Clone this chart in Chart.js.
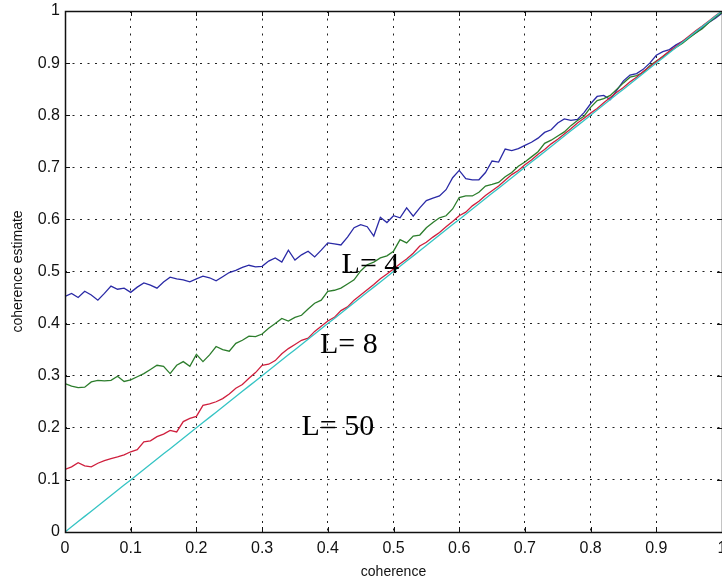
<!DOCTYPE html>
<html>
<head>
<meta charset="utf-8">
<script src="https://cdn.jsdelivr.net/npm/chart.js@4.4.0/dist/chart.umd.min.js"></script>
<style>
  body { margin: 0; background: #fff; }
</style>
</head>
<body>
<canvas id="myChart" width="722" height="582"></canvas>
<script>
// x values (true coherence)
const coherence = [
  0.00, 0.01, 0.02, 0.03, 0.04, 0.05, 0.06, 0.07, 0.08, 0.09,
  0.10, 0.11, 0.12, 0.13, 0.14, 0.15, 0.16, 0.17, 0.18, 0.19,
  0.20, 0.21, 0.22, 0.23, 0.24, 0.25, 0.26, 0.27, 0.28, 0.29,
  0.30, 0.31, 0.32, 0.33, 0.34, 0.35, 0.36, 0.37, 0.38, 0.39,
  0.40, 0.41, 0.42, 0.43, 0.44, 0.45, 0.46, 0.47, 0.48, 0.49,
  0.50, 0.51, 0.52, 0.53, 0.54, 0.55, 0.56, 0.57, 0.58, 0.59,
  0.60, 0.61, 0.62, 0.63, 0.64, 0.65, 0.66, 0.67, 0.68, 0.69,
  0.70, 0.71, 0.72, 0.73, 0.74, 0.75, 0.76, 0.77, 0.78, 0.79,
  0.80, 0.81, 0.82, 0.83, 0.84, 0.85, 0.86, 0.87, 0.88, 0.89,
  0.90, 0.91, 0.92, 0.93, 0.94, 0.95, 0.96, 0.97, 0.98, 0.99,
  1.00
];

// estimate, L = 4 (blue)
const estL4 = [
  0.452, 0.458, 0.450, 0.462, 0.455, 0.445, 0.458, 0.472, 0.466, 0.468,
  0.460, 0.470, 0.478, 0.474, 0.468, 0.480, 0.489, 0.486, 0.484, 0.480,
  0.486, 0.491, 0.488, 0.482, 0.490, 0.498, 0.502, 0.508, 0.512, 0.509,
  0.510, 0.520, 0.526, 0.518, 0.541, 0.522, 0.532, 0.539, 0.528, 0.541,
  0.555, 0.553, 0.551, 0.566, 0.584, 0.590, 0.586, 0.568, 0.604, 0.594,
  0.607, 0.603, 0.622, 0.606, 0.622, 0.636, 0.641, 0.645, 0.657, 0.680,
  0.694, 0.678, 0.676, 0.676, 0.690, 0.712, 0.710, 0.735, 0.732, 0.736,
  0.742, 0.748, 0.756, 0.767, 0.772, 0.785, 0.793, 0.790, 0.792, 0.805,
  0.822, 0.836, 0.838, 0.830, 0.848, 0.866, 0.877, 0.880, 0.888, 0.900,
  0.915, 0.922, 0.926, 0.935, 0.942, 0.950, 0.958, 0.968, 0.978, 0.986,
  0.996
];

// estimate, L = 8 (green)
const estL8 = [
  0.285, 0.280, 0.277, 0.278, 0.288, 0.291, 0.290, 0.291, 0.299, 0.289,
  0.292, 0.298, 0.304, 0.312, 0.320, 0.318, 0.304, 0.320, 0.327, 0.318,
  0.341, 0.327, 0.340, 0.356, 0.350, 0.347, 0.362, 0.368, 0.376, 0.375,
  0.380, 0.391, 0.400, 0.410, 0.405, 0.412, 0.416, 0.428, 0.439, 0.445,
  0.462, 0.464, 0.468, 0.476, 0.484, 0.501, 0.513, 0.518, 0.526, 0.530,
  0.539, 0.561, 0.555, 0.568, 0.570, 0.584, 0.594, 0.603, 0.607, 0.620,
  0.642, 0.645, 0.645, 0.652, 0.664, 0.667, 0.671, 0.682, 0.690, 0.702,
  0.710, 0.720, 0.730, 0.746, 0.752, 0.760, 0.768, 0.780, 0.790, 0.798,
  0.815, 0.828, 0.832, 0.838, 0.850, 0.862, 0.873, 0.876, 0.882, 0.895,
  0.904, 0.912, 0.922, 0.930, 0.938, 0.948, 0.958, 0.966, 0.978, 0.988,
  0.997
];

// estimate, L = 50 (red)
const estL50 = [
  0.120, 0.125, 0.133, 0.127, 0.125, 0.132, 0.137, 0.141, 0.144, 0.148,
  0.154, 0.158, 0.173, 0.175, 0.183, 0.188, 0.195, 0.192, 0.212, 0.218,
  0.222, 0.243, 0.246, 0.250, 0.256, 0.265, 0.276, 0.283, 0.295, 0.306,
  0.320, 0.322, 0.329, 0.342, 0.352, 0.360, 0.368, 0.372, 0.385, 0.395,
  0.405, 0.412, 0.425, 0.432, 0.445, 0.455, 0.465, 0.475, 0.486, 0.495,
  0.505, 0.515, 0.524, 0.535, 0.549, 0.556, 0.566, 0.575, 0.586, 0.596,
  0.607, 0.614, 0.626, 0.635, 0.646, 0.655, 0.664, 0.675, 0.686, 0.694,
  0.705, 0.714, 0.725, 0.734, 0.745, 0.754, 0.764, 0.774, 0.785, 0.794,
  0.804, 0.813, 0.824, 0.834, 0.844, 0.853, 0.864, 0.873, 0.884, 0.893,
  0.903, 0.913, 0.923, 0.932, 0.942, 0.952, 0.962, 0.971, 0.981, 0.991,
  1.000
];

// true coherence line (cyan)
const trueCoh = [
  0.000, 0.010, 0.020, 0.030, 0.040, 0.050, 0.060, 0.070, 0.080, 0.090,
  0.100, 0.110, 0.120, 0.130, 0.140, 0.150, 0.160, 0.170, 0.180, 0.190,
  0.200, 0.210, 0.220, 0.230, 0.240, 0.250, 0.260, 0.270, 0.280, 0.290,
  0.300, 0.310, 0.320, 0.330, 0.340, 0.350, 0.360, 0.370, 0.380, 0.390,
  0.400, 0.410, 0.420, 0.430, 0.440, 0.450, 0.460, 0.470, 0.480, 0.490,
  0.500, 0.510, 0.520, 0.530, 0.540, 0.550, 0.560, 0.570, 0.580, 0.590,
  0.600, 0.610, 0.620, 0.630, 0.640, 0.650, 0.660, 0.670, 0.680, 0.690,
  0.700, 0.710, 0.720, 0.730, 0.740, 0.750, 0.760, 0.770, 0.780, 0.790,
  0.800, 0.810, 0.820, 0.830, 0.840, 0.850, 0.860, 0.870, 0.880, 0.890,
  0.900, 0.910, 0.920, 0.930, 0.940, 0.950, 0.960, 0.970, 0.980, 0.990,
  1.000
];

const tickValues = [0, 0.1, 0.2, 0.3, 0.4, 0.5, 0.6, 0.7, 0.8, 0.9, 1];
const tickLabels = ['0', '0.1', '0.2', '0.3', '0.4', '0.5', '0.6', '0.7', '0.8', '0.9', '1'];

// text labels next to the curves
const noteTexts = ['L= 4', 'L= 8', 'L= 50'];
const noteX = [0.421, 0.388, 0.360];
const noteY = [0.497, 0.344, 0.186];

function pts(ys) {
    let out = [];
    for (let i = 0; i < coherence.length; i++) {
        out.push({x: coherence[i], y: ys[i]});
    }
    return out;
}

function setTicks(scale) {
    scale.ticks = tickValues.map(v => ({value: v}));
}

// matlab-style box with inward ticks, then the L= labels
const boxPlugin = {
    id: 'box',
    afterDatasetsDraw(chart) {
        const ctx = chart.ctx;
        const a = chart.chartArea;
        const x = chart.scales.x, y = chart.scales.y;
        ctx.save();
        ctx.strokeStyle = '#111';
        ctx.lineWidth = 1;
        ctx.beginPath();
        tickValues.forEach(v => {
            const px = Math.round(x.getPixelForValue(v)) + 0.5;
            ctx.moveTo(px, a.bottom); ctx.lineTo(px, a.bottom - 5);
            ctx.moveTo(px, a.top); ctx.lineTo(px, a.top + 5);
            const py = Math.round(y.getPixelForValue(v)) + 0.5;
            ctx.moveTo(a.left, py); ctx.lineTo(a.left + 5, py);
            ctx.moveTo(a.right, py); ctx.lineTo(a.right - 5, py);
        });
        ctx.stroke();
        ctx.lineWidth = 1.5;
        ctx.strokeRect(Math.round(a.left) + 0.5, Math.round(a.top) + 0.5,
            Math.round(a.right - a.left), Math.round(a.bottom - a.top));

        ctx.fillStyle = '#000';
        ctx.font = '30px "Liberation Serif", "Times New Roman", serif';
        ctx.textAlign = 'left';
        ctx.textBaseline = 'alphabetic';
        for (let i = 0; i < noteTexts.length; i++) {
            ctx.fillText(noteTexts[i], x.getPixelForValue(noteX[i]), y.getPixelForValue(noteY[i]));
        }
        ctx.restore();
    }
};

const tickFont = {family: '"Liberation Sans", Arial, sans-serif', size: 16};
const titleFont = {family: '"Liberation Sans", Arial, sans-serif', size: 14};

const data = {
    datasets: [
        {label: 'L=4', data: pts(estL4), borderColor: '#2a2aa6', order: 3},
        {label: 'L=8', data: pts(estL8), borderColor: '#2c7d2c', order: 2},
        {label: 'L=50', data: pts(estL50), borderColor: '#cf1f3d', order: 1},
        {label: 'true', data: pts(trueCoh), borderColor: '#35c4c4', order: 0}
    ]
};

const config = {
    type: 'line',
    data: data,
    options: {
        responsive: false,
        animation: false,
        layout: {padding: {left: 0, right: 0, top: 11, bottom: 0}},
        elements: {
            line: {borderWidth: 1.3, tension: 0},
            point: {radius: 0}
        },
        plugins: {legend: {display: false}, tooltip: {enabled: false}},
        scales: {
            x: {
                type: 'linear', min: 0, max: 1,
                afterBuildTicks: setTicks,
                afterFit: s => { s.height = 50; s.paddingLeft = 0; s.paddingRight = 0; },
                ticks: {
                    font: tickFont, color: '#111', padding: 7, maxRotation: 0,
                    callback: (v, i) => tickLabels[i]
                },
                grid: {color: '#222', lineWidth: 1, drawTicks: false},
                border: {display: false, dash: [2, 5.5]},
                title: {display: true, text: 'coherence', font: titleFont, color: '#111', padding: {top: 0, bottom: 1}}
            },
            y: {
                type: 'linear', min: 0, max: 1,
                afterBuildTicks: setTicks,
                afterFit: s => { s.width = 65; s.paddingTop = 0; s.paddingBottom = 0; },
                ticks: {
                    font: tickFont, color: '#111', padding: 5,
                    callback: (v, i) => tickLabels[i]
                },
                grid: {color: '#222', lineWidth: 1, drawTicks: false},
                border: {display: false, dash: [2, 5.5]},
                title: {display: true, text: 'coherence estimate', font: titleFont, color: '#111', padding: {top: 10, bottom: 0}}
            }
        }
    },
    plugins: [boxPlugin]
};

let ctxEl = document.getElementById('myChart');
var myChart = new Chart(ctxEl, config);
</script>
</body>
</html>
